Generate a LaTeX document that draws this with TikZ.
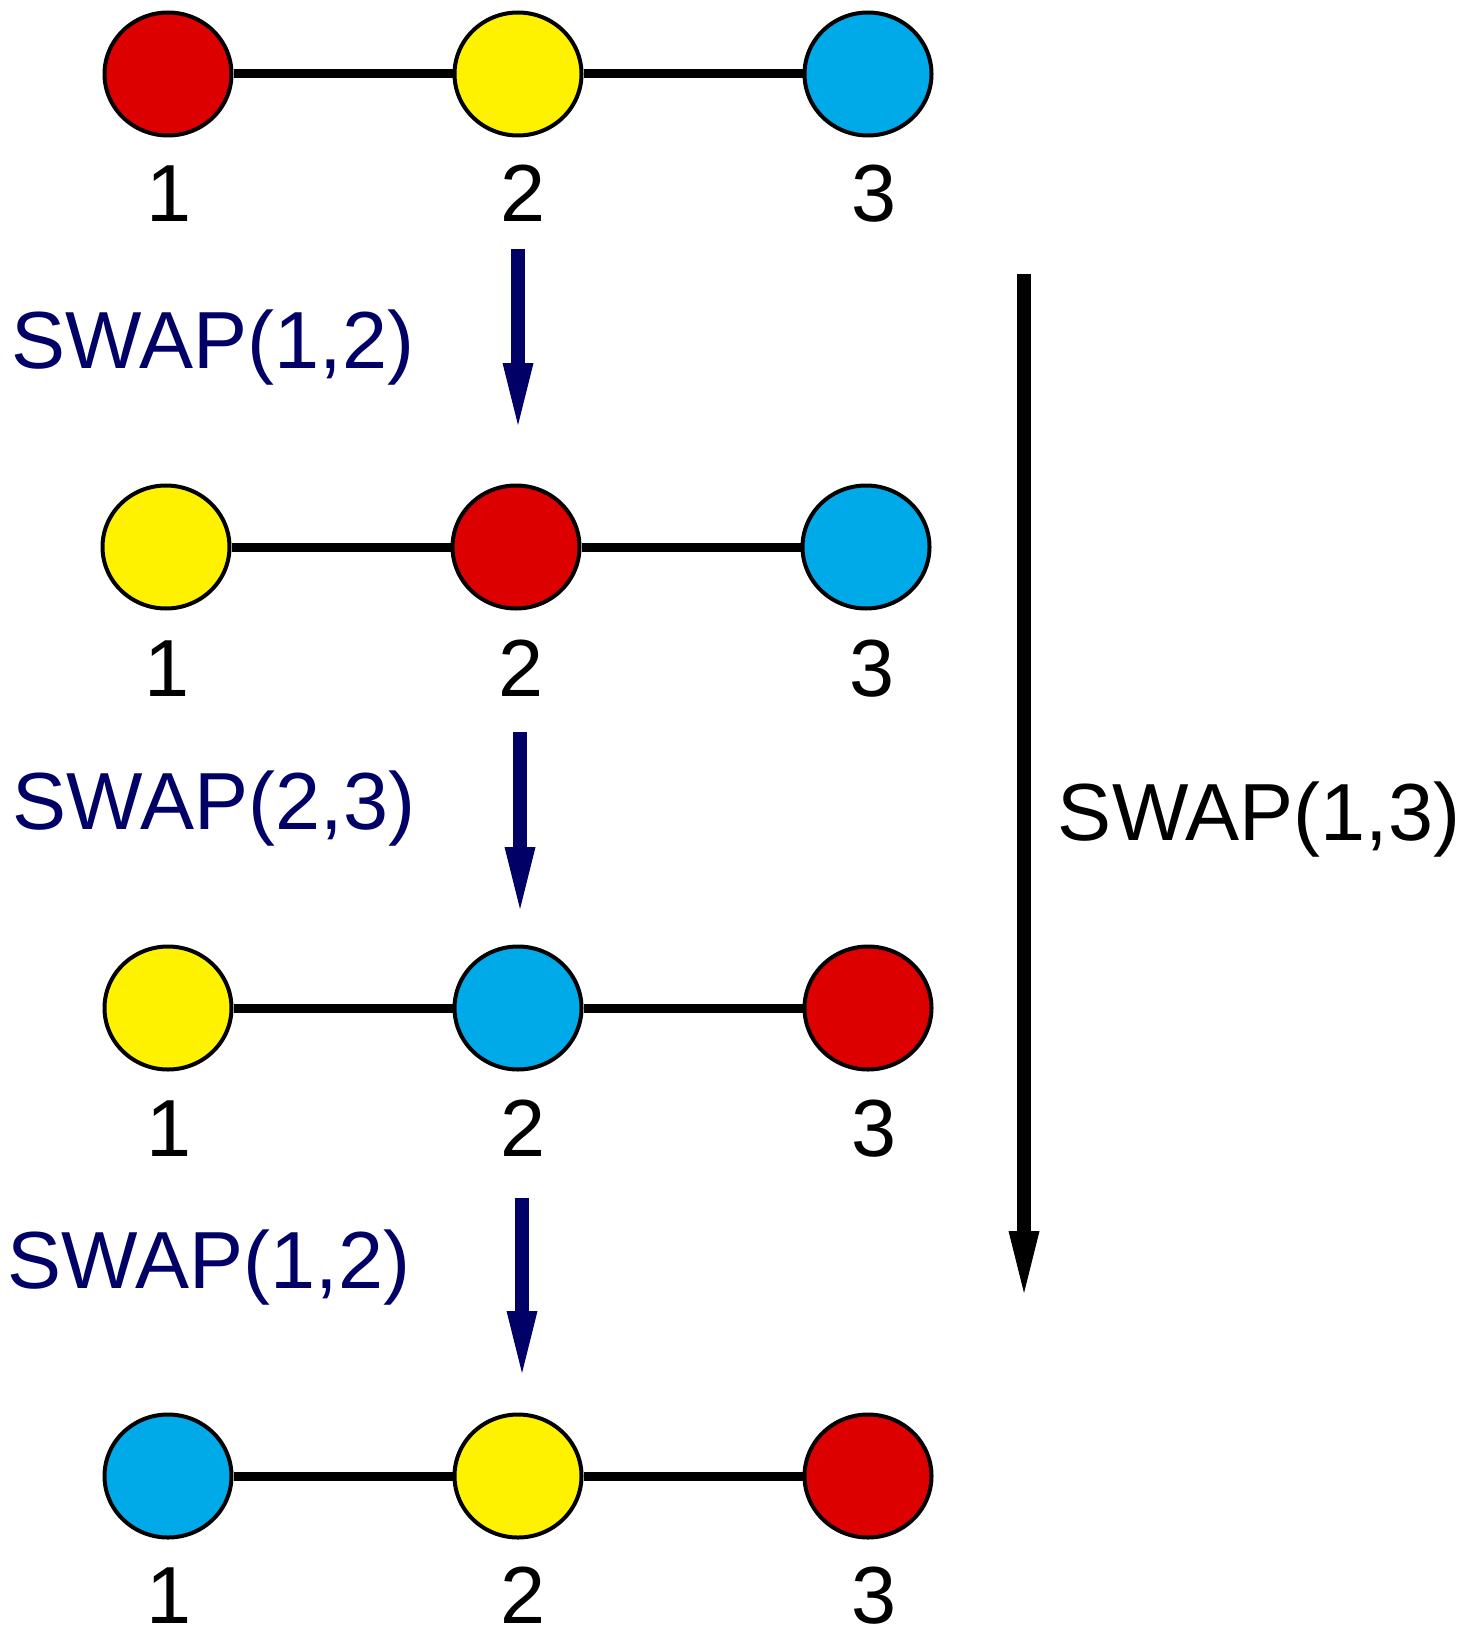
\documentclass[tikz,border=0pt]{standalone}
\usepackage{fontspec}
\setmainfont{Liberation Sans}
\usetikzlibrary{arrows.meta,shapes.geometric}
\definecolor{cred}{RGB}{221,0,0}
\definecolor{cyel}{RGB}{255,242,0}
\definecolor{cblu}{RGB}{0,170,232}
\definecolor{cnavy}{RGB}{0,0,102}
\tikzset{
  qb/.style={ellipse,draw=black,line width=4pt,minimum width=127pt,minimum height=123pt,inner sep=0pt},
  lnk/.style={line width=9pt},
  num/.style={anchor=base,inner sep=0pt,font=\fontsize{81}{90}\selectfont},
  swaptxt/.style={anchor=base,inner sep=0pt,font=\fontsize{81}{90}\selectfont},
  bigarrow/.style={line width=14pt,-{Triangle[width=31pt,length=62pt,line width=0pt]}},
}
\begin{document}
\begin{tikzpicture}[x=1pt,y=-1pt]
\useasboundingbox (0,0) rectangle (1474,1629);
% row 1
\node[qb,fill=cred] (a1) at (168,74) {};
\node[qb,fill=cyel] (a2) at (518,74) {};
\node[qb,fill=cblu] (a3) at (868,74) {};
% row 2
\node[qb,fill=cyel] (b1) at (166,547) {};
\node[qb,fill=cred] (b2) at (516,547) {};
\node[qb,fill=cblu] (b3) at (866,547) {};
% row 3
\node[qb,fill=cyel] (c1) at (168,1008) {};
\node[qb,fill=cblu] (c2) at (518,1008) {};
\node[qb,fill=cred] (c3) at (868,1008) {};
% row 4
\node[qb,fill=cblu] (d1) at (168,1476) {};
\node[qb,fill=cyel] (d2) at (518,1476) {};
\node[qb,fill=cred] (d3) at (868,1476) {};
% links
\foreach \r in {a,b,c,d}{
  \draw[lnk] (\r1) -- (\r2);
  \draw[lnk] (\r2) -- (\r3);
}
% labels
\node[num] (la1) at (169,222) {1};
\node[num] (la2) at (523,222) {2};
\node[num] (la3) at (874,222) {3};
\node[num] (lb1) at (167,696) {1};
\node[num] (lb2) at (521,696) {2};
\node[num] (lb3) at (872,696) {3};
\node[num] (lc1) at (169,1156) {1};
\node[num] (lc2) at (523,1156) {2};
\node[num] (lc3) at (874,1156) {3};
\node[num] (ld1) at (169,1623) {1};
\node[num] (ld2) at (523,1623) {2};
\node[num] (ld3) at (874,1623) {3};
% swap texts
\node[swaptxt,text=cnavy] (s1) at (213,368) {SWAP(1,2)};
\node[swaptxt,text=cnavy] (s2) at (214,829) {SWAP(2,3)};
\node[swaptxt,text=cnavy] (s3) at (209,1288) {SWAP(1,2)};
\node[swaptxt] (s4) at (1259,840) {SWAP(1,3)};
% arrows
\coordinate (p1s) at (518,249);
\coordinate (p1e) at (518,425);
\coordinate (p2s) at (520,732);
\coordinate (p2e) at (520,909);
\coordinate (p3s) at (522,1198);
\coordinate (p3e) at (522,1373);
\coordinate (qs) at (1024,274);
\coordinate (qe) at (1024,1293);
\draw[bigarrow,draw=cnavy,fill=cnavy] (p1s) -- (p1e);
\draw[bigarrow,draw=cnavy,fill=cnavy] (p2s) -- (p2e);
\draw[bigarrow,draw=cnavy,fill=cnavy] (p3s) -- (p3e);
\draw[bigarrow,draw=black,fill=black] (qs) -- (qe);
\end{tikzpicture}
\end{document}
